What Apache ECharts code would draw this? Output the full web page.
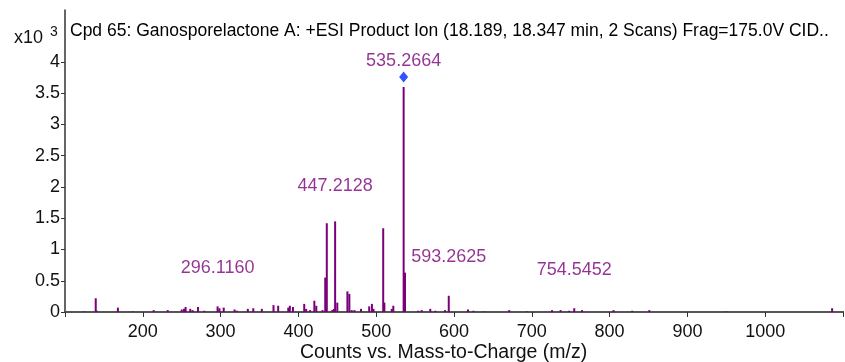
<!DOCTYPE html>
<html>
<head>
<meta charset="utf-8">
<script src="https://cdn.jsdelivr.net/npm/echarts@6/dist/echarts.min.js"></script>
<style>
html,body{margin:0;padding:0;background:#fff;}
#chart{width:845px;height:362px;}
</style>
</head>
<body>
<div id="chart"></div>
<script>
// Spectrum peaks: m/z and counts (x10^3)
const peakMz = [124, 139.5, 141, 168, 187, 214, 232, 250, 253, 255, 261, 264, 271, 279,
  296.116, 298.5, 304, 318, 321, 335, 342, 353, 368, 374, 387, 389, 393,
  407.5, 410, 415, 420.5, 423, 431, 434.5, 436.5, 443.5, 445.5, 447.2128, 450,
  463, 465.5, 468.5, 472, 480.5, 491, 494.5, 496.5, 509, 510.5, 520, 522,
  535.2664, 537, 554, 558.5, 569.5, 576, 588.5, 593.2625, 618, 625, 638,
  671, 694, 726, 737, 748, 754.5452, 764.5, 805, 829, 851, 950, 1086];
const peakCounts = [0.01, 0.22, 0.02, 0.07, 0.01, 0.03, 0.03, 0.04, 0.05, 0.08, 0.05, 0.03, 0.08, 0.02,
  0.09, 0.06, 0.07, 0.04, 0.02, 0.05, 0.06, 0.05, 0.11, 0.10, 0.07, 0.10, 0.08,
  0.13, 0.05, 0.03, 0.18, 0.10, 0.03, 0.55, 1.42, 0.03, 0.05, 1.45, 0.15,
  0.33, 0.29, 0.03, 0.03, 0.05, 0.09, 0.13, 0.05, 1.34, 0.15, 0.05, 0.10,
  3.60, 0.63, 0.02, 0.03, 0.05, 0.02, 0.03, 0.26, 0.04, 0.02, 0.01,
  0.03, 0.01, 0.03, 0.03, 0.02, 0.06, 0.03, 0.03, 0.02, 0.03, 0.01, 0.06];

// Annotation labels (m/z text and label anchor height in x10^3)
const annotMz = [535.2664, 447.2128, 296.1160, 593.2625, 754.5452];
const annotY = [4.02, 2.02, 0.70, 0.88, 0.67];

// Precursor marker
const precursorMz = [535.2664];
const precursorY = [3.60];

const xTicks = [200, 300, 400, 500, 600, 700, 800, 900, 1000, 1100];
const yTicks = [0, 0.5, 1, 1.5, 2, 2.5, 3, 3.5, 4];

const titleText = 'Cpd 65: Ganosporelactone A: +ESI Product Ion (18.189, 18.347 min, 2 Scans) Frag=175.0V CID..';
const xTitle = 'Counts vs. Mass-to-Charge (m/z)';

const FONT = '"Liberation Sans", Arial, sans-serif';
const PURPLE = '#7a007a';

const chart = echarts.init(document.getElementById('chart'), null, {renderer: 'canvas'});

const bars = peakMz.map((m, i) => [m, peakCounts[i]]);
const annots = annotMz.map((m, i) => [m, annotY[i]]);
const prec = precursorMz.map((m, i) => [m, precursorY[i]]);

chart.setOption({
  animation: false,
  backgroundColor: '#fff',
  grid: {left: 65, right: 2, top: 10, bottom: 50, containLabel: false},
  xAxis: [{
    type: 'value', min: 100, max: 1100, interval: 100,
    axisLine: {show: true, onZero: false, lineStyle: {color: '#333', width: 2}},
    axisTick: {show: true, length: 5, lineStyle: {color: '#333', width: 1}},
    axisLabel: {
      show: true, margin: 11, color: '#111', fontFamily: FONT, fontSize: 18,
      customValues: xTicks.filter(v => v <= 1000),
      formatter: v => String(v)
    },
    splitLine: {show: false}
  }, {
    type: 'value', min: 100, max: 1100, position: 'top',
    axisLine: {show: true, lineStyle: {color: '#555', width: 2}},
    axisTick: {show: false}, axisLabel: {show: false}, splitLine: {show: false}
  }],
  yAxis: {
    type: 'value', min: 0, max: 4.832, interval: 0.5,
    axisLine: {show: true, lineStyle: {color: '#333', width: 1.5}},
    axisTick: {show: true, length: 4, customValues: yTicks, lineStyle: {color: '#333'}},
    axisLabel: {
      margin: 5, color: '#111', fontFamily: FONT, fontSize: 18,
      customValues: yTicks,
      formatter: v => String(v)
    },
    splitLine: {show: false}
  },
  graphic: [
    {type: 'text', left: 70, top: 22, style: {text: titleText, font: '17.5px ' + FONT, fill: '#000'}},
    {type: 'text', left: 14, top: 29, style: {text: 'x10', font: '18px ' + FONT, fill: '#111'}},
    {type: 'text', left: 50, top: 25, style: {text: '3', font: '14px ' + FONT, fill: '#111'}},
    {type: 'text', left: 300, top: 343, style: {text: xTitle, font: '19.5px ' + FONT, fill: '#111'}}
  ],
  series: [
    {
      type: 'bar', data: bars, barWidth: 2, barGap: '-100%',
      itemStyle: {color: PURPLE}, silent: true
    },
    {
      type: 'scatter', data: prec, symbol: 'diamond', symbolSize: [9, 11],
      symbolOffset: [0, -10], itemStyle: {color: '#0028ff'}, silent: true, z: 5
    },
    {
      type: 'scatter', data: annots, symbolSize: 0, silent: true,
      label: {
        show: true, position: 'inside', color: PURPLE, fontFamily: FONT, fontSize: 18,
        formatter: p => annotMz[p.dataIndex].toFixed(4)
      }
    }
  ]
});
</script>
</body>
</html>
